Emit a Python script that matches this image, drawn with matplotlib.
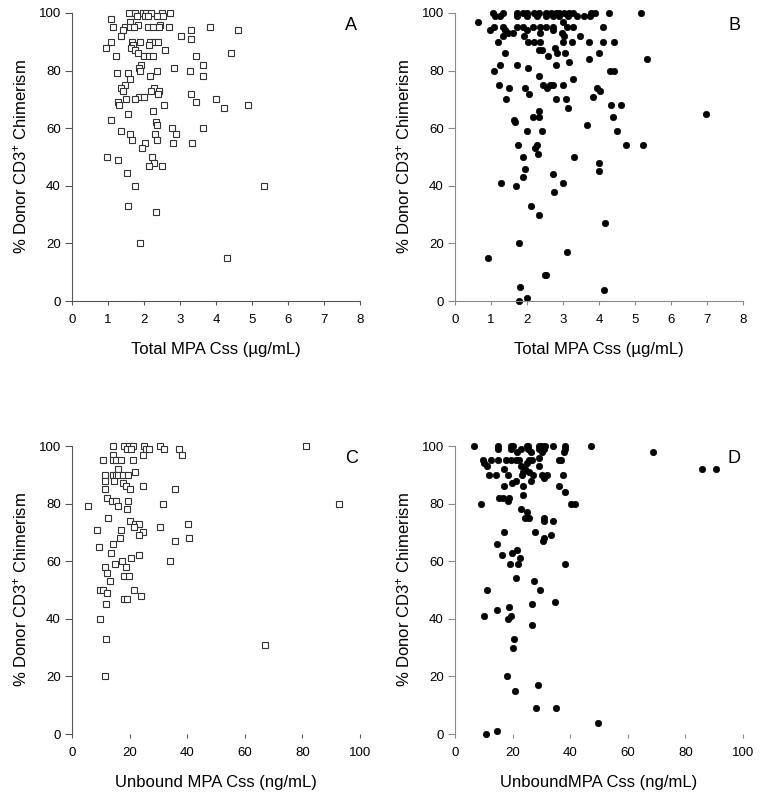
import matplotlib
matplotlib.use("Agg")
import matplotlib.pyplot as plt

plt.rcParams['font.family'] = ['Liberation Sans', 'DejaVu Sans']
plt.rcParams['mathtext.fontset'] = 'custom'
plt.rcParams['mathtext.rm'] = 'Liberation Sans'
plt.rcParams['mathtext.default'] = 'regular'

# panel A - total MPA Css, hollow squares
a_x = [1.59, 1.74, 1.96, 2.06, 2.20, 2.49, 2.73,
       1.80, 2.03, 2.10, 2.36, 2.54,
       1.09, 1.61, 1.82, 2.45,
       1.14, 1.46, 1.61, 1.73, 2.10, 2.26, 2.43, 2.70, 3.82,
       1.43, 3.30, 4.61, 1.35, 3.04, 3.31,
       1.08, 1.68, 1.89, 2.17, 2.31, 2.40,
       1.69, 2.15, 0.94, 1.63, 1.74, 2.57, 1.82, 4.42,
       1.22, 2.01, 2.13, 2.26, 3.43,
       1.92, 3.65, 1.87, 2.83, 1.89, 2.36, 3.27,
       1.25, 1.55, 2.17, 3.65, 1.62, 1.48,
       1.36, 2.27, 1.43, 2.20, 2.42, 3.30, 2.40, 1.87, 2.00,
       1.51, 1.74, 4.00, 1.28, 3.43, 1.31, 2.56, 4.90,
       4.22, 2.25, 1.56, 1.07, 2.33, 2.35, 2.77, 3.65, 1.35,
       1.62, 2.30, 2.90, 1.68, 2.36, 2.04, 2.81, 3.34,
       1.95, 0.97, 2.22, 1.29, 2.29, 2.14, 2.49,
       1.52, 1.74, 5.33, 1.55, 2.32, 1.90, 4.30]
a_y = [100, 100, 100, 100, 100, 100, 100,
       99, 99, 99, 99, 99,
       98, 97, 96, 96,
       95, 95, 95, 95, 95, 95, 95, 95, 95,
       94, 94, 94, 92, 92, 91,
       90, 90, 90, 90, 90, 90,
       89, 89, 88, 88, 87, 87, 86, 86,
       85, 85, 85, 85, 85,
       82, 82, 81, 81, 80, 80, 80,
       79, 79, 78, 78, 77, 75,
       74, 74, 73, 73, 73, 72, 72, 71, 71,
       70, 70, 70, 69, 69, 68, 68, 68,
       67, 66, 65, 63, 62, 61, 60, 60, 59,
       58, 58, 58, 56, 56, 55, 55, 55,
       53, 50, 50, 49, 48, 47, 47,
       44.5, 40, 40, 33, 31, 20, 15]

# panel B - total MPA Css, filled circles
b_x = [1.05, 1.34, 1.73, 1.90, 2.01, 2.19, 2.34, 2.53, 2.66, 2.80, 2.89, 3.02, 3.17, 3.27, 3.79, 3.88, 4.28, 5.18,
       1.11, 1.25, 1.73, 2.01, 2.27, 2.54, 2.71, 2.90, 3.15, 3.38, 3.59, 3.75,
       0.63, 3.01,
       1.08, 1.32, 1.73, 1.90, 2.17, 2.36, 2.53, 2.71, 3.10, 3.27, 4.12,
       0.97, 1.39, 1.99, 2.73,
       1.48, 1.60, 2.36, 2.96,
       1.34, 1.91, 3.47, 3.02,
       1.20, 2.04, 2.19, 2.36, 3.01, 3.24, 3.73, 4.10, 4.42,
       2.78, 2.34, 2.41, 1.40, 2.82, 3.05, 4.00, 2.59, 3.73, 5.34, 3.17,
       1.25, 1.71, 2.80, 2.04, 1.09, 4.30, 4.41, 2.32, 3.27,
       1.23, 2.45, 2.64, 2.73, 2.99, 1.51, 1.94, 2.56, 3.95, 4.04, 2.06, 3.84,
       1.42, 2.80, 3.08, 4.33, 4.61, 3.15, 2.32, 2.17, 2.34, 4.39, 1.64, 1.67, 6.98, 3.68,
       2.01, 2.43, 4.50, 1.75, 2.27, 4.75, 5.21, 2.22, 2.31, 1.90, 3.30,
       4.00, 1.94, 4.00, 2.73, 1.88, 1.29, 2.99, 1.69, 2.75,
       2.12, 2.34, 4.17, 1.78, 3.10, 0.91, 2.50, 2.54, 1.80, 4.14, 1.99, 1.77]
b_y = [100, 100, 100, 100, 100, 100, 100, 100, 100, 100, 100, 100, 100, 100, 100, 100, 100, 100,
       99, 99, 99, 99, 99, 99, 99, 99, 99, 99, 99, 99,
       97, 97,
       95, 95, 95, 95, 95, 95, 95, 95, 95, 95, 95,
       94, 94, 94, 94,
       93, 93, 93, 93,
       92, 92, 92, 92,
       90, 90, 90, 90, 90, 90, 90, 90, 90,
       88, 87, 87, 86, 86, 86, 86, 85, 84, 84, 83,
       82, 82, 82, 81, 80, 80, 80, 78, 77,
       75, 75, 75, 75, 75, 74, 74, 74, 74, 73, 72, 71,
       70, 70, 70, 68, 68, 67, 66, 64, 64, 64, 63, 62, 65, 61,
       59, 59, 59, 54, 54, 54, 54, 53, 51, 50, 50,
       48, 46, 45, 44, 43, 41, 41, 40, 38,
       33, 30, 27, 20, 17, 15, 9, 9, 5, 4, 1, 0]

# panel C - unbound MPA Css, hollow squares
c_x = [14.4, 17.9, 19.9, 21.1, 25.1, 30.4, 81.1,
       19.0, 20.4, 25.8, 26.9, 32.0, 37.0,
       14.2, 24.6, 38.3,
       10.7, 14.2, 15.3, 16.9, 21.1,
       16.1, 21.9,
       11.3, 14.2, 15.3, 16.1, 17.6, 19.6,
       11.6, 14.6, 17.6, 18.6, 24.5,
       11.5, 20.0, 35.7, 12.2, 13.8, 15.3, 19.5,
       31.6, 92.8, 5.7, 16.1, 19.0,
       12.4, 20.2, 21.9, 23.4, 40.4, 21.6, 30.4,
       8.7, 16.9, 24.6, 23.1, 16.7, 40.5, 35.7,
       14.2, 9.3, 13.7, 23.3, 20.5, 17.4, 33.9, 15.0,
       11.6, 18.8, 12.1, 18.1, 19.8, 13.3,
       9.7, 10.9, 21.6, 12.3, 23.9, 17.9, 19.0,
       11.7, 9.7, 11.8, 66.9, 11.5]
c_y = [100, 100, 100, 100, 100, 100, 100,
       99, 99, 99, 99, 99, 99,
       97, 97, 97,
       95, 95, 95, 95, 95,
       92, 91,
       90, 90, 90, 90, 90, 90,
       88, 88, 87, 86, 86,
       85, 85, 85, 82, 81, 81, 81,
       80, 80, 79, 79, 78,
       75, 74, 73, 73, 73, 72, 72,
       71, 71, 70, 69, 68, 68, 67,
       66, 65, 63, 62, 61, 60, 60, 59,
       58, 58, 56, 55, 55, 53,
       50, 50, 50, 49, 48, 47, 47,
       45, 40, 33, 31, 20]

# panel D - unbound MPA Css, filled circles
d_x = [6.5, 14.8, 19.4, 20.2, 24.9, 25.5, 29.0, 30.2, 31.4, 34.1, 38.3, 47.2,
       14.8, 19.4, 22.9, 25.5, 29.0, 31.0, 38.3,
       21.4, 26.4, 30.2, 37.9, 68.8,
       29.0,
       9.6, 12.5, 15.1, 17.7, 19.4, 21.1, 22.3, 25.8, 26.9, 36.2, 36.8,
       10.2, 24.9, 11.0, 22.9, 29.2,
       17.1, 24.4, 85.9, 90.5, 23.5, 25.8,
       11.7, 14.2, 18.3, 23.2, 27.2, 30.2, 31.8, 37.6,
       31.0, 21.2, 26.4, 19.8, 16.9, 23.7, 36.0,
       38.3, 23.5, 15.4, 16.5, 18.8, 18.3, 9.0, 40.2, 41.7,
       22.9, 24.9, 24.4, 25.8, 31.0, 31.0, 34.1,
       17.1, 27.7, 33.3, 31.0, 30.6, 14.5,
       21.7, 19.8, 16.3, 22.5, 19.2, 22.0, 38.3,
       21.2, 27.3, 11.1, 29.6, 34.8, 26.7, 18.8, 14.5, 9.9, 19.4, 18.3, 26.6,
       20.6, 20.3, 17.9, 28.9, 20.8, 28.1, 35.0, 49.7, 14.5, 10.9]
d_y = [100, 100, 100, 100, 100, 100, 100, 100, 100, 100, 100, 100,
       99, 99, 99, 99, 99, 99, 99,
       98, 98, 98, 98, 98,
       96,
       95, 95, 95, 95, 95, 95, 95, 95, 95, 95, 95,
       94, 94, 93, 93, 93,
       92, 92, 92, 92, 91, 91,
       90, 90, 90, 90, 90, 90, 90, 90,
       89, 88, 88, 87, 86, 86, 86,
       84, 83, 82, 82, 82, 81, 80, 80, 80,
       78, 77, 75, 75, 75, 74, 74,
       70, 70, 69, 68, 67, 66,
       64, 63, 62, 61, 59, 59, 59,
       54, 53, 50, 50, 46, 45, 44, 43, 41, 41, 40, 38,
       33, 30, 20, 17, 15, 9, 9, 4, 1, 0]

ylabel = '% Donor CD3$^{+}$ Chimerism'

fig = plt.figure(figsize=(7.62, 7.97), dpi=100)

W = 0.378
H = 0.3614
panels = [
    ([0.0945, 0.6223, W, H], a_x, a_y, 's', 'A', (0, 8), range(0, 9), 'Total MPA Css (\u00b5g/mL)', '#555555', True),
    ([0.5971, 0.6223, W, H], b_x, b_y, 'o', 'B', (0, 8), range(0, 9), 'Total MPA Css (\u00b5g/mL)', '#8a8a8a', True),
    ([0.0945, 0.0790, W, H], c_x, c_y, 's', 'C', (0, 100), range(0, 101, 20), 'Unbound MPA Css (ng/mL)', '#555555', False),
    ([0.5971, 0.0790, W, H], d_x, d_y, 'o', 'D', (0, 100), range(0, 101, 20), 'UnboundMPA Css (ng/mL)', '#8a8a8a', False),
]

for rect, xs, ys, mk, letter, xlim, xt, xlab, spc, bottom in panels:
    ax = fig.add_axes(rect)
    if mk == 's':
        ax.plot(xs, ys, 's', ms=4.2, mfc='white', mec='#333333', mew=0.8, clip_on=False)
    else:
        ax.plot(xs, ys, 'o', ms=4.6, mfc='black', mec='black', mew=0.5, clip_on=False)
    ax.set_xlim(*xlim)
    ax.set_ylim(0, 100)
    ax.set_xticks(list(xt))
    ax.set_yticks(range(0, 101, 20))
    for s in ['top', 'right']:
        ax.spines[s].set_visible(False)
    ax.spines['left'].set_color(spc)
    ax.spines['bottom'].set_color(spc)
    ax.spines['bottom'].set_visible(bottom)
    ax.tick_params(axis='y', direction='out', length=5, width=0.8, color=spc, pad=3, labelsize=9.5)
    ax.tick_params(axis='x', direction='out', length=3, width=0.8, color=spc, pad=6, labelsize=9.5)
    ax.set_xlabel(xlab, fontsize=12, labelpad=12)
    ax.set_ylabel(ylabel, fontsize=12, labelpad=7)
    ax.text(0.97, 0.955, letter, transform=ax.transAxes, fontsize=13, ha='center', va='center')

fig.savefig('out.png', dpi=100)
